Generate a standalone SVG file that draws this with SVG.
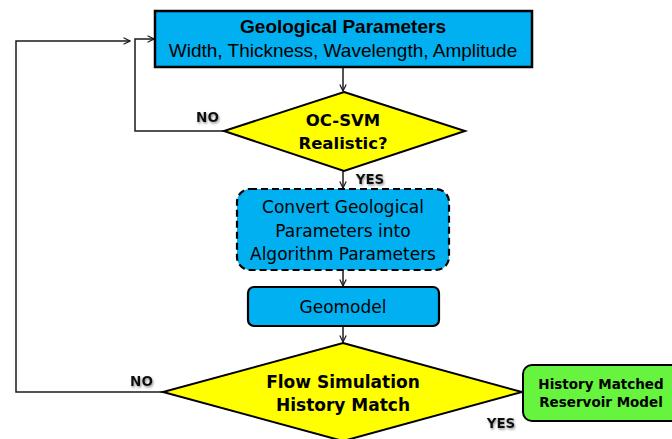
<svg xmlns="http://www.w3.org/2000/svg" width="672" height="439" viewBox="0 0 672 439">
<style>
.conn{fill:none;stroke:#1a1a1a;stroke-width:1.5}
.box{fill:#00B0F0;stroke:#000;stroke-width:2.5}
.dia{fill:#FFFF00;stroke:#000;stroke-width:2}
.hdr{font-family:"Liberation Sans",Arial,sans-serif;font-size:19px;fill:#000;text-anchor:middle}
.tah{font-family:"DejaVu Sans",Verdana,sans-serif;fill:#000;text-anchor:middle}
.lbl{font-family:"DejaVu Sans",Verdana,sans-serif;font-weight:bold;font-size:13.5px;fill:#111;text-anchor:middle;filter:url(#sh)}
</style>
<defs>
<marker id="arr" viewBox="0 0 10 10" refX="9" refY="5" markerWidth="8" markerHeight="8" markerUnits="userSpaceOnUse" orient="auto">
<path d="M1,1 L9,5 L1,9" fill="none" stroke="#1a1a1a" stroke-width="1.5"/>
</marker>
<filter id="sh" x="-30%" y="-30%" width="160%" height="160%">
<feDropShadow dx="1" dy="1.5" stdDeviation="1.2" flood-color="#777" flood-opacity="0.8"/>
</filter>
</defs>
<rect width="672" height="439" fill="#fff"/>
<g id="connectors">
<path class="conn" d="M343,67 L343,91" marker-end="url(#arr)"/>
<path class="conn" d="M224,131 L135,131 L135,39 L154,39" marker-end="url(#arr)"/>
<path class="conn" d="M343,171 L343,188" marker-end="url(#arr)"/>
<path class="conn" d="M343,270 L343,286" marker-end="url(#arr)"/>
<path class="conn" d="M343,326 L343,342" marker-end="url(#arr)"/>
<path class="conn" d="M163,392 L16,392 L16,41 L130,41" marker-end="url(#arr)"/>
<path class="conn" d="M522,392 L524,392"/>
</g>
<g id="geo-params">
<rect class="box" x="155" y="11" width="377" height="56"/>
<text class="hdr" x="343" y="33" font-weight="bold">Geological Parameters</text>
<text class="hdr" x="343" y="57">Width, Thickness, Wavelength, Amplitude</text>
</g>
<g id="ocsvm">
<polygon class="dia" points="344,92 465,131 344,171 224,131"/>
<text class="tah" x="343" y="126" font-size="16.5px" font-weight="bold">OC-SVM</text>
<text class="tah" x="343" y="149" font-size="16.5px" font-weight="bold">Realistic?</text>
</g>
<g id="convert">
<rect x="237" y="189" width="212" height="81" rx="13" fill="#00B0F0" stroke="#000" stroke-width="2.2" stroke-dasharray="7,4"/>
<text class="tah" x="343" y="213" font-size="17px">Convert Geological</text>
<text class="tah" x="343" y="237" font-size="17px">Parameters into</text>
<text class="tah" x="343" y="260" font-size="17px">Algorithm Parameters</text>
</g>
<g id="geomodel">
<rect x="248" y="287" width="191" height="39" rx="6" fill="#00B0F0" stroke="#000" stroke-width="2.2"/>
<text class="tah" x="343" y="313" font-size="17px">Geomodel</text>
</g>
<g id="flowsim">
<polygon class="dia" points="343,343 522,392 343,441 163,392"/>
<text class="tah" x="343" y="388" font-size="17px" font-weight="bold">Flow Simulation</text>
<text class="tah" x="343" y="411" font-size="17px" font-weight="bold">History Match</text>
</g>
<g id="matched">
<rect x="523" y="365" width="160" height="56" rx="9" fill="#66F43E" stroke="#000" stroke-width="2"/>
<text class="tah" x="601" y="389" font-size="13.5px" font-weight="bold">History Matched</text>
<text class="tah" x="601" y="407" font-size="13.5px" font-weight="bold">Reservoir Model</text>
</g>
<g id="labels">
<text class="lbl" x="207.5" y="122">NO</text>
<text class="lbl" x="370" y="184">YES</text>
<text class="lbl" x="141.5" y="386">NO</text>
<text class="lbl" x="501" y="428">YES</text>
</g>
</svg>
